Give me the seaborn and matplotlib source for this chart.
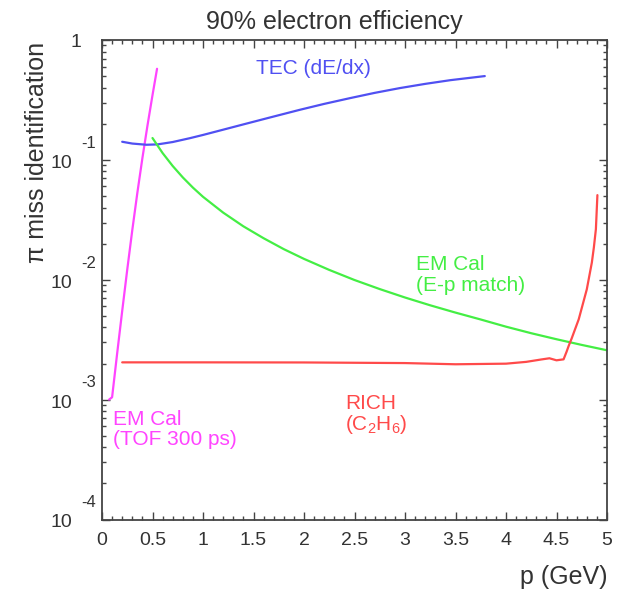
import numpy as np
import pandas as pd
import matplotlib
matplotlib.use("Agg")
import matplotlib.pyplot as plt
import matplotlib.ticker as mticker
import matplotlib.transforms as mtrans
import seaborn as sns

# ---- data ----
tof_p = [0.07, 0.1, 0.15, 0.2, 0.25, 0.3, 0.35, 0.4, 0.45, 0.5, 0.545]
tof_mis = [1.0e-3, 1.047e-3, 2.427e-3, 5.495e-3, 1.216e-2, 2.60e-2, 5.31e-2, 0.1035, 0.1928, 0.3467, 0.5754]

tec_p = [0.2, 0.3, 0.44, 0.55, 0.7, 0.87, 1.0, 1.2, 1.4, 1.66, 1.96, 2.2, 2.455, 2.7, 2.95, 3.2, 3.45, 3.79]
tec_mis = [0.1416, 0.1368, 0.1337, 0.1346, 0.1409, 0.1517, 0.1614, 0.1786, 0.1977, 0.2254,
           0.2618, 0.2931, 0.3273, 0.3622, 0.3972, 0.4305, 0.4624, 0.5000]

emp_p = [0.5, 0.6, 0.7, 0.8, 0.9, 1.0, 1.2, 1.4, 1.6, 1.8, 2.0, 2.25, 2.5, 2.75, 3.0, 3.25,
         3.5, 3.75, 4.0, 4.25, 4.5, 4.75, 5.0]
emp_mis = [0.1521, 0.1140, 0.0889, 0.0714, 0.0587, 0.0492, 0.0363, 0.0279, 0.0222, 0.0180,
           0.01493, 0.01208, 0.00995, 0.00836, 0.00711, 0.00612, 0.00532, 0.00466, 0.00406,
           0.00358, 0.00319, 0.00286, 0.00258]

rich_p = [0.2, 1.0, 2.0, 3.0, 3.5, 4.0, 4.2, 4.35, 4.43, 4.5, 4.57, 4.6, 4.62, 4.65, 4.72,
          4.8, 4.85, 4.87, 4.89, 4.905]
rich_mis = [0.002046, 0.002046, 0.002042, 0.002018, 0.001972, 0.001995, 0.002065, 0.002163,
            0.002213, 0.002128, 0.002168, 0.002512, 0.002799, 0.003236, 0.004677, 0.008318,
            0.01393, 0.01862, 0.02642, 0.05082]

x_ticks = [0, 0.5, 1, 1.5, 2, 2.5, 3, 3.5, 4, 4.5, 5]
x_tick_labels = ["0", "0.5", "1", "1.5", "2", "2.5", "3", "3.5", "4", "4.5", "5"]
y_decades = [1e-4, 1e-3, 1e-2, 1e-1]
y_exponents = ["-4", "-3", "-2", "-1"]

title = "90% electron efficiency"
xlabel = "p (GeV)"
ylabel = "π miss identification"

# ---- style ----
sns.set_style("ticks")
plt.rcParams["font.family"] = ["Liberation Sans", "DejaVu Sans"]
plt.rcParams["mathtext.fontset"] = "custom"
plt.rcParams["mathtext.rm"] = "Liberation Sans"
plt.rcParams["mathtext.it"] = "Liberation Sans"

C_TOF = "#ff44ff"
C_TEC = "#5050f2"
C_EMP = "#44ee44"
C_RICH = "#ff4a4a"
C_AX = "#444444"
C_TXT = "#333333"

fig = plt.figure(figsize=(6.17, 5.90), dpi=100)
ax = fig.add_axes([102 / 617, 1 - 519.5 / 590, 505 / 617, 479.5 / 590])

series = [
    (tof_p, tof_mis, C_TOF),
    (tec_p, tec_mis, C_TEC),
    (emp_p, emp_mis, C_EMP),
    (rich_p, rich_mis, C_RICH),
]
for xs, ys, col in series:
    df = pd.DataFrame({"p": xs, "mis": ys})
    sns.lineplot(data=df, x="p", y="mis", ax=ax, color=col, lw=1.6,
                 sort=False, estimator=None)

ax.set_yscale("log")
ax.set_xlim(0, 5)
ax.set_ylim(1e-4, 1)
ax.set_xlabel("")
ax.set_ylabel("")

ax.set_xticks(x_ticks)
ax.set_xticklabels(x_tick_labels)
ax.xaxis.set_minor_locator(mticker.MultipleLocator(0.1))
ax.yaxis.set_major_locator(mticker.FixedLocator(y_decades + [1.0]))
ax.yaxis.set_minor_locator(mticker.LogLocator(base=10, subs=np.arange(2, 10), numticks=20))
ax.yaxis.set_minor_formatter(mticker.NullFormatter())
ax.set_yticklabels([""] * 5)

ax.tick_params(which="both", direction="in", top=True, right=True, color=C_AX, width=1.0)
ax.tick_params(which="major", length=5.5)
ax.tick_params(which="minor", length=3)
ax.tick_params(axis="x", which="major", labelsize=14, labelcolor=C_TXT, pad=9)
for s in ax.spines.values():
    s.set_color(C_AX)
    s.set_linewidth(1.3)

# y tick labels drawn as base + raised exponent
base_tr = mtrans.blended_transform_factory(ax.transAxes, ax.transData)
x_base = (72 - 102) / 505
x_exp = (81 - 102) / 505
for val, ex in zip(y_decades, y_exponents):
    ax.text(x_base, val, "10", transform=mtrans.offset_copy(base_tr, fig=fig, y=-2.5, units="points"),
            ha="right", va="center", fontsize=14, color=C_TXT, clip_on=False)
    ax.text(x_exp, val, ex, transform=mtrans.offset_copy(base_tr, fig=fig, y=12, units="points"),
            ha="left", va="center", fontsize=12, color=C_TXT, clip_on=False)
ax.text((81 - 102) / 505, 1.0, "1", transform=mtrans.offset_copy(base_tr, fig=fig, y=-2.0, units="points"),
        ha="right", va="center", fontsize=14, color=C_TXT, clip_on=False)

# curve labels
ax.text(1.525, 0.584, "TEC (dE/dx)", color=C_TEC, fontsize=15, ha="left", va="center")
ax.text(3.11, 0.01096, "EM Cal\n(E-p match)", color=C_EMP, fontsize=15, ha="left", va="center",
        linespacing=1.1)
ax.text(0.109, 5.64e-4, "EM Cal\n(TOF 300 ps)", color=C_TOF, fontsize=15, ha="left", va="center",
        linespacing=1.1)
ax.text(2.406, 7.45e-4, "RICH\n(C$_2$H$_6$)", color=C_RICH, fontsize=15, ha="left", va="center",
        linespacing=1.05)

fig.text(334 / 617, 1 - 22 / 590, title, ha="center", va="center", fontsize=18, color=C_TXT)
fig.text(37 / 617, 1 - 152 / 590, ylabel, ha="center", va="center", rotation=90, fontsize=18, color=C_TXT)
fig.text(607 / 617, 1 - 577 / 590, xlabel, ha="right", va="center", fontsize=18, color=C_TXT)

fig.savefig("out.png", dpi=100, facecolor="white")
